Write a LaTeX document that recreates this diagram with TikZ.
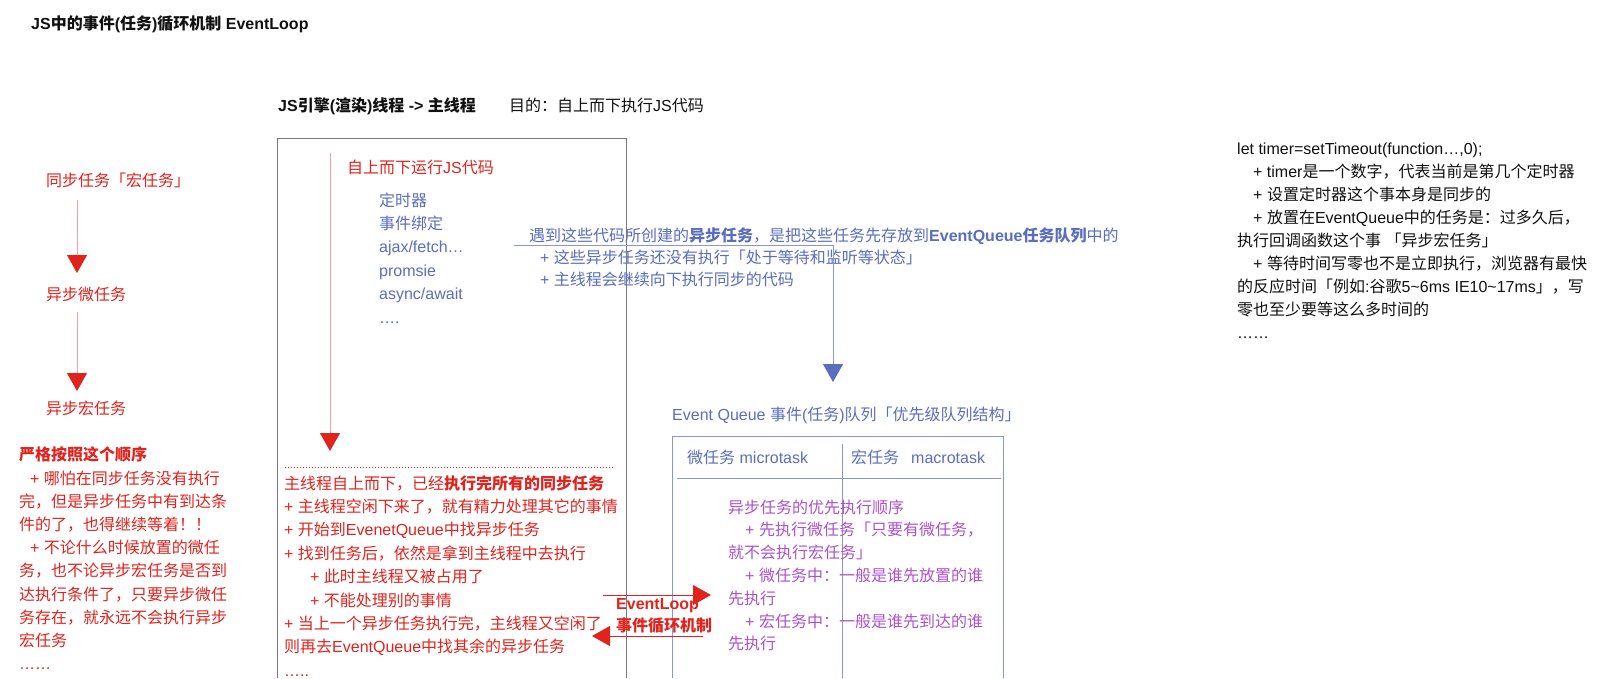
\documentclass[tikz,border=0pt]{standalone}
\usepackage{fontspec}
\setmainfont{Liberation Sans}
\newfontfamily\cjkfam{Noto Sans CJK SC}
\newfontfamily\latfam{Liberation Sans}
\XeTeXinterchartokenstate=1
\newXeTeXintercharclass\cjkcls
\newcount\cjkcc
\def\setcjkrange#1#2{\cjkcc=#1\relax\loop\XeTeXcharclass\cjkcc=\cjkcls\relax\ifnum\cjkcc<#2\relax\advance\cjkcc by 1\repeat}
\setcjkrange{"3000}{"303F}
\setcjkrange{"4E00}{"9FFF}
\setcjkrange{"FF00}{"FFEF}
\XeTeXinterchartoks 0 \cjkcls = {\cjkfam}
\XeTeXinterchartoks 4095 \cjkcls = {\cjkfam}
\XeTeXinterchartoks \cjkcls 0 = {\latfam}
\XeTeXinterchartoks \cjkcls 4095 = {\latfam}
\usetikzlibrary{arrows.meta}
\definecolor{jred}{RGB}{225,35,30}
\definecolor{jlred}{RGB}{242,160,160}
\definecolor{jblue}{RGB}{90,110,190}
\definecolor{jlblue}{RGB}{135,152,218}
\definecolor{jpurp}{RGB}{172,82,204}
\definecolor{jgray}{RGB}{120,120,120}
\definecolor{jblack}{RGB}{17,17,17}
\newcommand\fsz[1]{\fontsize{16}{#1}\selectfont}
\tikzset{
  txt/.style={anchor=north west, inner sep=0pt, align=left},
  lbl/.style={anchor=base west, inner sep=0pt, font=\fsz{20}},
  bighead/.style={-{Triangle[width=20pt,length=18pt,color=#1]}},
  redarrow/.style={draw=jlred, line width=1pt, bighead=jred},
  evarrow/.style={draw=jred, line width=1pt, bighead=jred},
  bluearrow/.style={draw=jlblue, line width=1pt, bighead=jblue},
  mainframe/.style={draw=jgray, line width=1pt},
  eqframe/.style={draw=jlblue, line width=1pt}
}
\begin{document}
\begin{tikzpicture}[x=1pt,y=-1pt]
\fill[white] (0,0) rectangle (1613,678);
\useasboundingbox (0,0) rectangle (1613,678);

% titles
\node[lbl, font=\fsz{20}\bfseries, text=jblack] (title) at (31,29) {JS中的事件(任务)循环机制 EventLoop};
\node[lbl, font=\fsz{20}\bfseries, text=jblack] (thread) at (278,111) {JS引擎(渲染)线程 -> 主线程};
\node[lbl, text=jblack] (goal) at (509,111) {目的：自上而下执行JS代码};

% left column
\node[lbl, text=jred] (sync) at (46,186) {同步任务「宏任务」};
\node[lbl, text=jred] (micro) at (46,300) {异步微任务};
\node[lbl, text=jred] (macro) at (46,414) {异步宏任务};
\coordinate (la1) at (77,200);
\coordinate (la2) at (77,273);
\coordinate (lb1) at (77,312);
\coordinate (lb2) at (77,391);
\draw[redarrow] (la1) -- (la2);
\draw[redarrow] (lb1) -- (lb2);
\node[txt, font=\fsz{23.2}, text=jred] (order) at (19,444.5) {\strut\textbf{严格按照这个顺序}\\
\hspace*{11pt}+ 哪怕在同步任务没有执行\\
完，但是异步任务中有到达条\\
件的了，也得继续等着！！\\
\hspace*{11pt}+ 不论什么时候放置的微任\\
务，也不论异步宏任务是否到\\
达执行条件了，只要异步微任\\
务存在，就永远不会执行异步\\
宏任务\\
……};

% main thread frame
\draw[mainframe] (277,678) -- (277,138) -- (626,138) -- (626,678);
\coordinate (ra1) at (330,153);
\coordinate (ra2) at (330,451);
\draw[redarrow] (ra1) -- (ra2);
\node[lbl, text=jred] (run) at (347,173) {自上而下运行JS代码};
\node[txt, font=\fsz{23.4}, text=jblue] (codes) at (379,189.6) {\strut 定时器\\
事件绑定\\
ajax/fetch…\\
promsie\\
async/await\\
….};
\coordinate (dl1) at (285,467);
\coordinate (dl2) at (613,467);
\draw[jred, line width=1pt, dash pattern=on 1pt off 2pt] (dl1) -- (dl2);
\node[txt, font=\fsz{23.4}, text=jred] (idle) at (284,472.6) {\strut 主线程自上而下，已经\textbf{执行完所有的同步任务}\\
+ 主线程空闲下来了，就有精力处理其它的事情\\
+ 开始到EvenetQueue中找异步任务\\
+ 找到任务后，依然是拿到主线程中去执行\\
\hspace*{26pt}+ 此时主线程又被占用了\\
\hspace*{26pt}+ 不能处理别的事情\\
+ 当上一个异步任务执行完，主线程又空闲了\\
则再去EventQueue中找其余的异步任务\\
…..};

% blue note and connector
\node[txt, font=\fsz{22}, text=jblue] (note) at (529,225.6) {\strut 遇到这些代码所创建的\textbf{异步任务}，是把这些任务先存放到\textbf{EventQueue任务队列}中的\\
\hspace*{11pt}+ 这些异步任务还没有执行「处于等待和监听等状态」\\
\hspace*{11pt}+ 主线程会继续向下执行同步的代码};
\coordinate (bs) at (514,245);
\coordinate (be) at (833,382);
\draw[bluearrow] (bs) -| (be);

% event queue
\node[lbl, text=jblue] (eqtitle) at (672,420) {Event Queue 事件(任务)队列「优先级队列结构」};
\draw[eqframe] (672,678) -- (672,436) -- (1003,436) -- (1003,678);
\coordinate (dv1) at (842,444);
\coordinate (dv2) at (842,678);
\draw[eqframe] (dv1) -- (dv2);
\coordinate (hl1) at (677,478);
\coordinate (hl2) at (1001,478);
\draw[eqframe] (hl1) -- (hl2);
\node[lbl, text=jblue] (mich) at (687,463) {微任务 microtask};
\node[lbl, text=jblue] (mach) at (851,463) {宏任务\hspace{12pt}macrotask};
\node[txt, font=\fsz{22.8}, text=jpurp] (prio) at (728,497) {\strut 异步任务的优先执行顺序\\
\hspace*{17pt}+ 先执行微任务「只要有微任务，\\
就不会执行宏任务」\\
\hspace*{17pt}+ 微任务中：一般是谁先放置的谁\\
先执行\\
\hspace*{17pt}+ 宏任务中：一般是谁先到达的谁\\
先执行};

% event loop arrows
\coordinate (ev1) at (603,595);
\coordinate (ev2) at (711,595);
\coordinate (ev3) at (703,636);
\coordinate (ev4) at (592,636);
\draw[evarrow] (ev1) -- (ev2);
\draw[evarrow] (ev3) -- (ev4);
\node[txt, font=\fsz{22}\bfseries, text=jred] (evlbl) at (616,594) {\strut EventLoop\\事件循环机制};

% right note
\node[txt, font=\fsz{23}, text=jblack] (timer) at (1237,137.9) {\strut let timer=setTimeout(function…,0);\\
\hspace*{16pt}+ timer是一个数字，代表当前是第几个定时器\\
\hspace*{16pt}+ 设置定时器这个事本身是同步的\\
\hspace*{16pt}+ 放置在EventQueue中的任务是：过多久后，\\
执行回调函数这个事 「异步宏任务」\\
\hspace*{16pt}+ 等待时间写零也不是立即执行，浏览器有最快\\
的反应时间「例如:谷歌5\textasciitilde 6ms IE10\textasciitilde 17ms」，写\\
零也至少要等这么多时间的\\
……};
\end{tikzpicture}
\end{document}
